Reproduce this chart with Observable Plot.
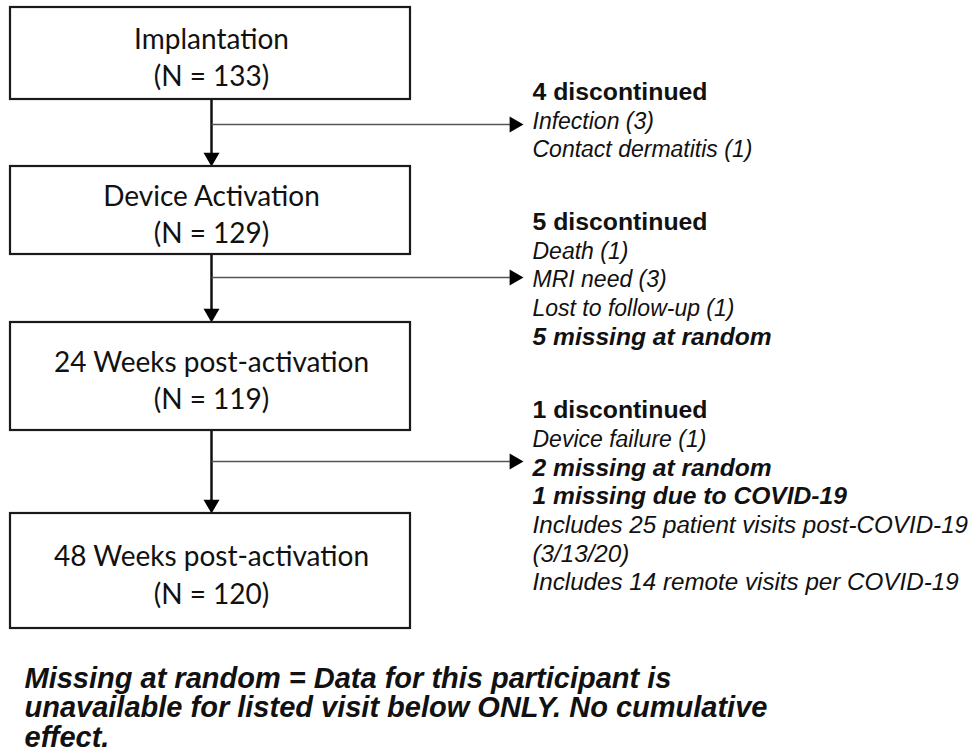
<!DOCTYPE html>
<html><head><meta charset="utf-8">
<script src="https://cdn.jsdelivr.net/npm/d3@7"></script>
<script src="https://cdn.jsdelivr.net/npm/@observablehq/plot@0.6"></script>
<style>html,body{margin:0;padding:0;background:#fff}</style>
</head><body><div id="chart"></div>
<script>
// ---------- data ----------
const stages = ["Implantation", "Device Activation", "24 Weeks post-activation", "48 Weeks post-activation"];
const stageN = [133, 129, 119, 120];
const discontinued = [4, 5, 1];
const branchReasons = [
  [["reason", "Infection (3)"], ["reason", "Contact dermatitis (1)"]],
  [["reason", "Death (1)"], ["reason", "MRI need (3)"], ["reason", "Lost to follow-up (1)"], ["missing", "5 missing at random"]],
  [["reason", "Device failure (1)"], ["missing", "2 missing at random"], ["missing", "1 missing due to COVID-19"],
   ["note", "Includes 25 patient visits post-COVID-19"], ["note", "(3/13/20)"], ["note", "Includes 14 remote visits per COVID-19"]]
];
const footnote = [
  "Missing at random = Data for this participant is",
  "unavailable for listed visit below ONLY. No cumulative",
  "effect."
];

// ---------- layout ----------
const W = 974, H = 753;
const boxLeft = 10, boxRight = 410, stemX = 211;
const boxTop = [7, 166, 322, 513], boxBottom = [99, 254, 430, 628];
const branchY = [124, 277, 461], branchTipX = 523;
const noteX = 532, noteTop = [92, 222, 410], noteStep = 28.7;
const footX = 24, footTop = 678, footStep = 29.5;
const headOffset = 9.24; // centroid-to-tip distance of the triangle symbol (r = 5.94)

const boxes = stages.map((s, i) => ({
  label: `${s}\n(N = ${stageN[i]})`,
  x1: boxLeft, x2: boxRight, y1: boxTop[i], y2: boxBottom[i],
  cy: (boxTop[i] + boxBottom[i]) / 2 + 2
}));
const stems = discontinued.map((d, i) => ({x: stemX, y1: boxBottom[i], y2: boxTop[i + 1] - 4}));
const branches = discontinued.map((d, i) => ({x1: stemX, x2: branchTipX - 4, y: branchY[i]}));
const heads = [
  ...discontinued.map((d, i) => ({x: stemX, y: boxTop[i + 1] - headOffset, rot: 180})),
  ...discontinued.map((d, i) => ({x: branchTipX - headOffset, y: branchY[i], rot: 90}))
];
const noteRows = [];
discontinued.forEach((d, i) => {
  noteRows.push({kind: "header", text: `${d} discontinued`, y: noteTop[i]});
  branchReasons[i].forEach(([kind, text], j) => noteRows.push({kind, text, y: noteTop[i] + (j + 1) * noteStep}));
});
const footRows = footnote.map((t, i) => ({text: t, y: footTop + i * footStep}));

const sans = "'Liberation Sans', Arial, sans-serif";
const boxFont = "Lato, 'Open Sans', sans-serif";

const noteMark = (kind, size, weight, style) => Plot.text(noteRows.filter(d => d.kind === kind), {
  x: noteX, y: "y", text: "text", textAnchor: "start", lineAnchor: "middle",
  fontFamily: sans, fontSize: size, fontWeight: weight, fontStyle: style, fill: "#111"
});

const chart = Plot.plot({
  width: W, height: H, margin: 0,
  x: {domain: [0, W], range: [0, W], axis: null},
  y: {domain: [0, H], range: [0, H], axis: null},
  marks: [
    Plot.link(stems, {x1: "x", x2: "x", y1: "y1", y2: "y2", stroke: "#111", strokeWidth: 2.5}),
    Plot.link(branches, {x1: "x1", x2: "x2", y1: "y", y2: "y", stroke: "#555", strokeWidth: 1.6}),
    Plot.dot(heads, {x: "x", y: "y", rotate: "rot", symbol: "triangle", r: 5.94, fill: "#000", stroke: "none"}),
    Plot.rect(boxes, {x1: "x1", x2: "x2", y1: "y1", y2: "y2", fill: "white", stroke: "#1a1a1a", strokeWidth: 2.2}),
    Plot.text(boxes, {x: stemX, y: "cy", text: "label", textAnchor: "middle", lineAnchor: "middle",
      lineHeight: 1.35, fontFamily: boxFont, fontSize: 28, fill: "#111"}),
    noteMark("header", 24.8, "bold", "normal"),
    noteMark("reason", 23, "normal", "italic"),
    noteMark("missing", 24.6, "bold", "italic"),
    noteMark("note", 24.2, "normal", "italic"),
    Plot.text(footRows, {x: footX, y: "y", text: "text", textAnchor: "start", lineAnchor: "middle",
      fontFamily: sans, fontSize: 29, fontWeight: "bold", fontStyle: "italic", fill: "#111"})
  ]
});
document.getElementById("chart").appendChild(chart);
</script>
</body></html>
